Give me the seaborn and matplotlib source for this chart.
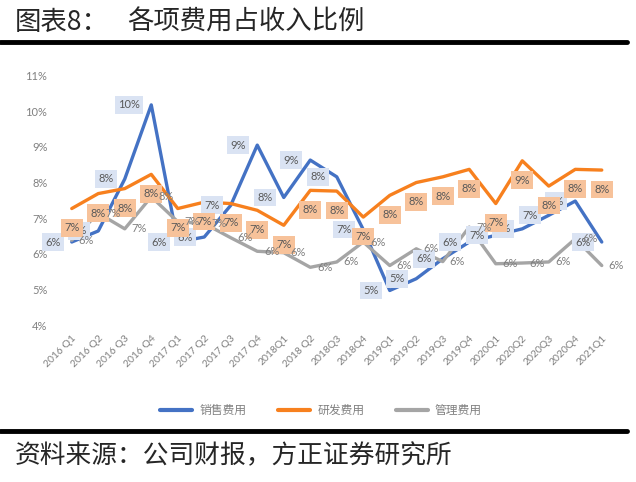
import numpy as np
import pandas as pd
import matplotlib
matplotlib.use('Agg')
import matplotlib.pyplot as plt
import seaborn as sns
from matplotlib.lines import Line2D
from matplotlib.ticker import FuncFormatter

sns.set_style('white')
plt.rcParams['font.family'] = ['Noto Sans CJK SC', 'DejaVu Sans']

# data (percent of revenue)
quarters = ['2016 Q1', '2016 Q2', '2016 Q3', '2016 Q4', '2017 Q1', '2017 Q2', '2017 Q3', '2017 Q4',
            '2018Q1', '2018 Q2', '2018Q3', '2018Q4', '2019Q1', '2019Q2', '2019Q3', '2019Q4',
            '2020Q1', '2020Q2', '2020Q3', '2020Q4', '2021Q1']
sales = [6.33, 6.64, 8.10, 10.18, 6.33, 6.47, 7.36, 9.05, 7.58, 8.63, 8.16, 6.68,
         4.97, 5.30, 5.86, 6.33, 6.52, 6.70, 7.08, 7.48, 6.33]
rd = [7.27, 7.69, 7.83, 8.23, 7.27, 7.45, 7.41, 7.22, 6.80, 7.78, 7.76, 7.03,
      7.64, 8.00, 8.16, 8.37, 7.41, 8.61, 7.90, 8.37, 8.35]
admin = [6.38, 7.14, 6.70, 7.60, 6.90, 6.85, 6.45, 6.07, 6.03, 5.62, 5.77, 6.33,
         5.67, 6.14, 5.78, 6.75, 5.72, 5.74, 5.77, 6.42, 5.67]

names = ['销售费用', '研发费用', '管理费用']
colors = ['#4472C4', '#F7801E', '#A5A5A5']

df = pd.DataFrame({
    'pos': list(range(len(quarters))) * 3,
    'ratio': sales + rd + admin,
    'item': [n for n in names for _ in quarters],
})

fig = plt.figure(figsize=(6.36, 4.82), dpi=100)
ax = fig.add_axes([0.092, 0.3257, 0.875, 0.5173])

sns.lineplot(data=df, x='pos', y='ratio', hue='item', hue_order=names,
             palette=dict(zip(names, colors)), linewidth=2.4, ax=ax, legend=False, sort=False)

lab_font = ['Lato', 'DejaVu Sans']
txt_col = '#595959'

# data labels: sales left, R&D below, admin right
for i, v in enumerate(sales):
    ax.annotate(f'{round(v)}%', (i, v), xytext=(-8, 0), textcoords='offset points',
                ha='right', va='center', fontsize=8, color=txt_col, family=lab_font,
                bbox=dict(boxstyle='square,pad=0.3', fc='#DAE3F3', ec='none'))
for i, v in enumerate(rd):
    ax.annotate(f'{round(v)}%', (i, v), xytext=(0, -14), textcoords='offset points',
                ha='center', va='center', fontsize=8, color=txt_col, family=lab_font,
                bbox=dict(boxstyle='square,pad=0.3', fc='#F7C29A', ec='none'))
for i, v in enumerate(admin):
    ax.annotate(f'{round(v)}%', (i, v), xytext=(5, 0), textcoords='offset points',
                ha='left', va='center', fontsize=8, color='#7F7F7F', family=lab_font)

ax.set_xlim(-0.5, len(quarters) - 0.5)
ax.set_ylim(4, 11)
ax.set_yticks(range(4, 12))
ax.yaxis.set_major_formatter(FuncFormatter(lambda v, p: f'{v:.0f}%'))
ax.set_xticks(range(len(quarters)))
ax.set_xticklabels(quarters, rotation=45, ha='right', rotation_mode='anchor')
for t in ax.get_xticklabels() + ax.get_yticklabels():
    t.set_fontsize(7.5)
    t.set_color('#808080')
    t.set_family(lab_font)
for t in ax.get_yticklabels():
    t.set_fontsize(8)
ax.tick_params(axis='y', length=0, pad=8)
ax.tick_params(axis='x', length=0, pad=6)
ax.set_xlabel('')
ax.set_ylabel('')
for s in ax.spines.values():
    s.set_visible(False)
ax.grid(False)

handles = [Line2D([], [], color=c, lw=3) for c in colors]
fig.legend(handles, names, loc='center', bbox_to_anchor=(0.505, 0.149), ncol=3, frameon=False,
           handlelength=2.7, handletextpad=0.6, columnspacing=2.7, fontsize=8.5, labelcolor='#808080')

# title, rules and source note
fig.text(15 / 636, 1 - 22 / 482, '图表8：', fontsize=19, va='center', ha='left')
fig.text(127 / 636, 1 - 22 / 482, '各项费用占收入比例', fontsize=19, va='center', ha='left')
fig.add_artist(Line2D([0, 627 / 636], [1 - 41.5 / 482] * 2, color='black', lw=3.5))
fig.add_artist(Line2D([0, 627 / 636], [1 - 430.5 / 482] * 2, color='black', lw=3.5))
fig.text(15 / 636, 1 - 456 / 482, '资料来源：公司财报，方正证券研究所', fontsize=18.5, va='center', ha='left',
         style='italic', weight='light')

fig.savefig('out.png', dpi=100)
